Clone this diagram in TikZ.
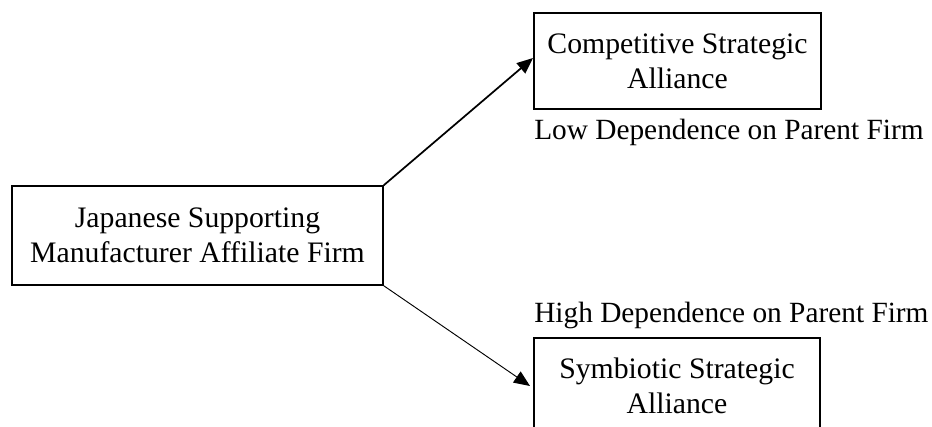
\documentclass[tikz,border=0pt]{standalone}
\usepackage{fontspec}
\setmainfont{Liberation Serif}
\usetikzlibrary{arrows.meta}
\begin{document}
\begin{tikzpicture}[x=0.75pt,y=-0.75pt,
  box/.style={draw,line width=1.1pt,inner sep=0pt,align=center,
    font=\fontsize{22.3}{26.5}\selectfont},
  lbl/.style={inner sep=0pt,anchor=base west,font=\fontsize{22}{26.5}\selectfont},
  arr/.style={-{Triangle[length=12pt,width=10pt]}}]
\useasboundingbox (0,0) rectangle (932,426);
\clip (0,0) rectangle (932,426);
\node[box,minimum width=371*0.75pt,minimum height=99*0.75pt] (L) at (197.5,235.5)
  {Japanese Supporting\\Manufacturer Affiliate Firm};
\node[box,minimum width=287*0.75pt,minimum height=96*0.75pt] (T) at (677.5,61)
  {Competitive Strategic\\Alliance};
\node[box,minimum width=286*0.75pt,minimum height=96*0.75pt] (B) at (677,386)
  {Symbiotic Strategic\\Alliance};
\node[lbl] (lo) at (534,139) {Low Dependence on Parent Firm};
\node[lbl] (hi) at (534,322) {High Dependence on Parent Firm};
\coordinate (t1) at (533,58);
\coordinate (t2) at (530,386);
\draw[arr,line width=1.3pt] (L.north east) -- (t1);
\draw[arr,line width=0.7pt] (L.south east) -- (t2);
\end{tikzpicture}
\end{document}
